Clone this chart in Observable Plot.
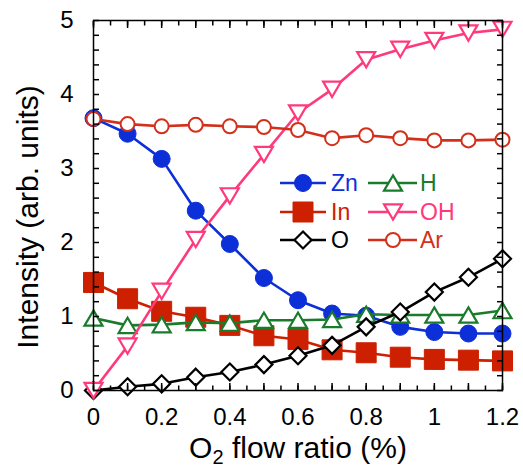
<!DOCTYPE html>
<html><head><meta charset="utf-8">
<script src="https://cdn.jsdelivr.net/npm/d3@7"></script>
<script src="https://cdn.jsdelivr.net/npm/@observablehq/plot@0.6"></script>
<style>
body{margin:0;background:#fff}
#chart{position:relative;width:523px;height:468px}
svg text{font-family:"Liberation Sans",Arial,Helvetica,sans-serif}
</style>
</head><body><div id="chart"></div>
<script>
// ---- data ----
const o2Flow = [0, 0.1, 0.2, 0.3, 0.4, 0.5, 0.6, 0.7, 0.8, 0.9, 1.0, 1.1, 1.2];
const zn = [3.68, 3.47, 3.13, 2.43, 1.98, 1.52, 1.22, 1.04, 1.01, 0.86, 0.79, 0.77, 0.77];
const inn = [1.46, 1.24, 1.07, 0.99, 0.88, 0.74, 0.69, 0.55, 0.51, 0.45, 0.42, 0.41, 0.40];
const h = [0.98, 0.88, 0.89, 0.92, 0.91, 0.95, 0.95, 0.96, 1.03, 1.02, 1.02, 1.02, 1.08];
const oh = [0.0, 0.60, 1.34, 2.04, 2.63, 3.19, 3.75, 4.07, 4.47, 4.61, 4.73, 4.83, 4.88];
const o = [0.0, 0.05, 0.09, 0.18, 0.25, 0.35, 0.47, 0.61, 0.86, 1.06, 1.33, 1.53, 1.78];
const ar = [3.67, 3.60, 3.57, 3.59, 3.57, 3.56, 3.52, 3.41, 3.45, 3.41, 3.38, 3.38, 3.39];

const seriesNames = ["Zn", "In", "H", "OH", "O", "Ar"];
const xTickValues = [0, 0.2, 0.4, 0.6, 0.8, 1, 1.2];
const xTickLabels = ["0", "0.2", "0.4", "0.6", "0.8", "1", "1.2"];
const yTickValues = [0, 1, 2, 3, 4, 5];
const yTickLabels = ["0", "1", "2", "3", "4", "5"];
const xMajorTicks = d3.range(0, 13).map(i => i / 10);
const xMinorTicks = d3.range(0, 25).map(i => i / 20);
const yMinorTicks = d3.range(0, 26).map(i => i / 5);
const xTitle = ["O", "2", " flow ratio (%)"];
const yTitle = "Intensity (arb. units)";

// ---- custom marker shapes ----
const rad = s => Math.sqrt(s / Math.PI);
const symSquare = {draw(c, s) { const r = rad(s); c.rect(-r, -r, 2 * r, 2 * r); }};
const symTriUp = {draw(c, s) { const r = rad(s), k = r * 0.85; c.moveTo(0, -k); c.lineTo(r, k); c.lineTo(-r, k); c.closePath(); }};
const symTriDown = {draw(c, s) { const r = rad(s), k = r * 0.85; c.moveTo(0, k); c.lineTo(r, -k); c.lineTo(-r, -k); c.closePath(); }};
const symDiamond = {draw(c, s) { const r = rad(s); c.moveTo(0, -r); c.lineTo(r, 0); c.lineTo(0, r); c.lineTo(-r, 0); c.closePath(); }};

const styles = {
  Zn: {values: zn, color: "#0c2fd8", symbol: d3.symbolCircle, r: 8.5, fill: "#0c2fd8", sw: 1, text: "#0c2fd8"},
  In: {values: inn, color: "#cc2000", symbol: symSquare, r: 10, fill: "#cc2000", sw: 1, text: "#cc2000"},
  H:  {values: h, color: "#1a7b2c", symbol: symTriUp, r: 9, fill: "white", sw: 2.2, text: "#1a7b2c"},
  OH: {values: oh, color: "#ff3a7c", symbol: symTriDown, r: 9, fill: "white", sw: 2.2, text: "#ff3a7c"},
  O:  {values: o, color: "#000000", symbol: symDiamond, r: 8.5, fill: "white", sw: 2.2, text: "#000000"},
  Ar: {values: ar, color: "#d2301a", symbol: d3.symbolCircle, r: 7, fill: "white", sw: 2, text: "#d2301a"}
};

const drawOrder = ["Zn", "In", "H", "O", "OH", "Ar"];
const marks = [];
for (const name of drawOrder) {
  const st = styles[name];
  const rows = o2Flow.map((x, i) => ({x, y: st.values[i]}));
  marks.push(Plot.line(rows, {x: "x", y: "y", stroke: st.color, strokeWidth: 2.6}));
  marks.push(Plot.dot(rows, {x: "x", y: "y", symbol: st.symbol, r: st.r, fill: st.fill, stroke: st.color, strokeWidth: st.sw}));
}

const blank = () => "";
const plot = Plot.plot({
  width: 523, height: 468,
  marginLeft: 93, marginRight: 21, marginTop: 20, marginBottom: 78,
  style: {fontFamily: "Liberation Sans, Arial, sans-serif", background: "white", overflow: "visible"},
  x: {domain: [0, 1.2]},
  y: {domain: [0, 5]},
  marks: [
    ...marks,
    Plot.frame({stroke: "black", strokeWidth: 1.5}),
    // tick labels
    Plot.axisX(xTickValues, {anchor: "bottom", tickSize: 0, tickPadding: 17, tickFormat: d => xTickLabels[xTickValues.indexOf(d)], fontSize: 24, fill: "black", label: null}),
    Plot.axisY(yTickValues, {anchor: "left", tickSize: 0, tickPadding: 20, tickFormat: d => yTickLabels[yTickValues.indexOf(d)], fontSize: 24, fill: "black", label: null}),
    // inward ticks on all four sides
    Plot.axisX(xMajorTicks, {anchor: "bottom", tickSize: -7, tickFormat: blank, strokeWidth: 1.5, label: null}),
    Plot.axisX(xMinorTicks, {anchor: "bottom", tickSize: -4.5, tickFormat: blank, strokeWidth: 1.5, label: null}),
    Plot.axisX(xMajorTicks, {anchor: "top", tickSize: -7, tickFormat: blank, strokeWidth: 1.5, label: null}),
    Plot.axisX(xMinorTicks, {anchor: "top", tickSize: -4.5, tickFormat: blank, strokeWidth: 1.5, label: null}),
    Plot.axisY(yMinorTicks, {anchor: "left", tickSize: -6, tickFormat: blank, strokeWidth: 1.5, label: null}),
    Plot.axisY(yMinorTicks, {anchor: "right", tickSize: -6, tickFormat: blank, strokeWidth: 1.5, label: null})
  ]
});
document.getElementById("chart").appendChild(plot);

// ---- axis titles ----
const svg = d3.select(plot);
const xt = svg.append("text").attr("x", 298).attr("y", 458).attr("text-anchor", "middle")
  .attr("font-size", 30).attr("fill", "black");
xt.append("tspan").text(xTitle[0]);
xt.append("tspan").attr("font-size", 20).attr("dy", 6).text(xTitle[1]);
xt.append("tspan").attr("dy", -6).text(xTitle[2]);
svg.append("text").attr("transform", "translate(38,217) rotate(-90)").attr("text-anchor", "middle")
  .attr("font-size", 30).attr("fill", "black").text(yTitle);

// ---- legend (inside plot) ----
const legendLayout = [["Zn", "H"], ["In", "OH"], ["O", "Ar"]];
const rowY = [183, 212, 240];
const cols = [{x0: 280, x1: 326, mx: 303, tx: 331}, {x0: 368, x1: 417, mx: 393, tx: 420}];
const lg = svg.append("g").attr("text-anchor", "start");
legendLayout.forEach((row, ri) => row.forEach((name, ci) => {
  const st = styles[name], c = cols[ci], y = rowY[ri];
  lg.append("line").attr("x1", c.x0).attr("x2", c.x1).attr("y1", y).attr("y2", y)
    .attr("stroke", st.color).attr("stroke-width", 2.6);
  lg.append("path").attr("transform", `translate(${c.mx},${y})`)
    .attr("d", d3.symbol(st.symbol, Math.PI * st.r * st.r)())
    .attr("fill", st.fill).attr("stroke", st.color).attr("stroke-width", st.sw);
  lg.append("text").attr("x", c.tx).attr("y", y).attr("dy", "0.36em").attr("text-anchor", "start")
    .attr("font-size", 23).attr("fill", st.text).text(name);
}));
</script>
</body></html>
